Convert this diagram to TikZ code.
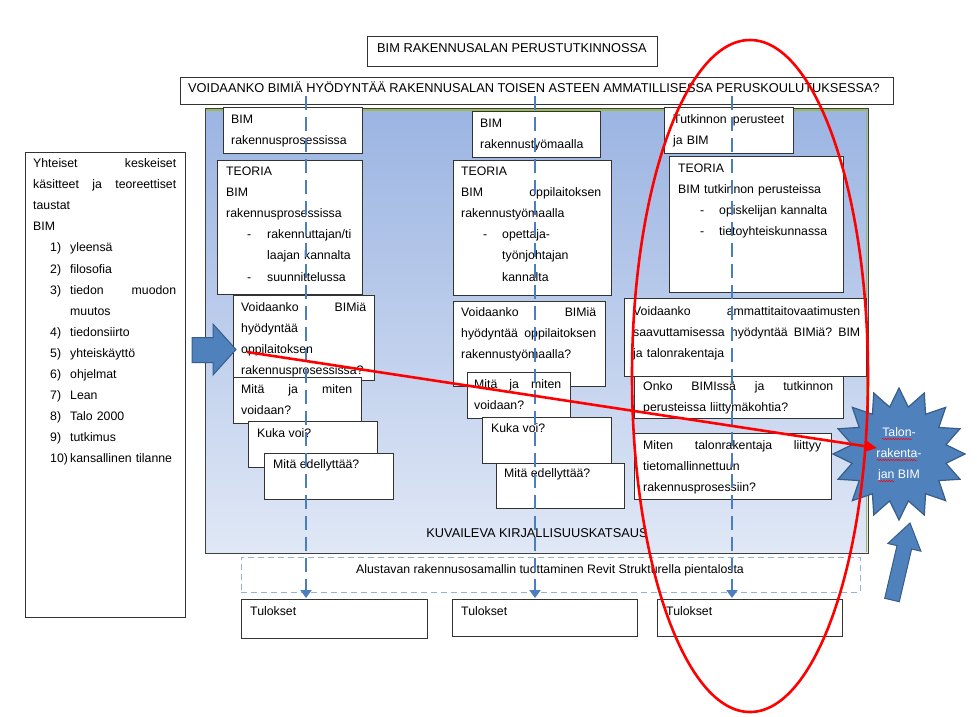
\documentclass[tikz,border=0pt]{standalone}
\usepackage{fontspec}
\setmainfont{Liberation Sans}
\usetikzlibrary{shapes.geometric,arrows.meta,decorations.pathmorphing,calc}
\definecolor{blueF}{RGB}{79,129,189}
\definecolor{blueD}{RGB}{56,93,138}
\definecolor{flowblue}{RGB}{74,126,193}
\definecolor{lightdash}{RGB}{149,179,215}
\definecolor{gradtop}{RGB}{155,180,226}
\definecolor{gradbot}{RGB}{224,232,246}
\definecolor{edgegreen}{RGB}{155,187,89}
\newcommand\fs{\fontsize{12.3}{21.1}\selectfont}
\newcommand\fscap{\fontsize{12.8}{21.1}\selectfont}
\newcommand\jline[1]{\makebox[\linewidth][s]{\spaceskip=0.28em plus 1fil\relax #1}}
\newcommand\jlinew[2]{\makebox[#1][s]{\spaceskip=0.28em plus 1fil\relax #2}}
\newcommand\numitem[2]{\hspace*{17pt}\makebox[20pt][l]{#1}#2}
\newcommand\dashitem[3]{\hspace*{#1}\makebox[#2][l]{-}#3}
\begin{document}
\begin{tikzpicture}[x=1pt,y=-1pt,
  box/.style={draw=black!80, line width=0.9pt, fill=white, anchor=north west, inner sep=0pt, outer sep=0pt},
  txt/.style={anchor=base west, inner sep=0pt, font=\fs, align=left},
  flow/.style={draw=flowblue, line width=2.5pt, dash pattern=on 14pt off 7pt, -{Triangle[length=8pt,width=11pt]}, shorten >=1pt},
  blockarrow/.style={fill=blueF, draw=blueD, line width=1pt},
  squiggle/.style={red, line width=0.5pt, decorate, decoration={snake, amplitude=0.7pt, segment length=2.6pt}}]
\useasboundingbox (0,0) rectangle (977,716);
\fill[white] (0,0) rectangle (977,716);

% background literature review area
\shade[top color=gradtop, bottom color=gradbot] (205,108) rectangle (868,553);
\draw[black!75, line width=1pt] (205,108) rectangle (868,553);
\draw[edgegreen, line width=1.4pt] (206,110) -- (866.5,110) -- (866.5,552);
\node[font=\fscap, anchor=base, inner sep=0pt] (kuv) at (537,537) {KUVAILEVA KIRJALLISUUSKATSAUS};

% header boxes
\node[box, minimum width=290pt, minimum height=30pt] (title) at (367,36) {};
\node[txt, font=\fscap] (titletxt) at (377,52.5) {BIM RAKENNUSALAN PERUSTUTKINNOSSA};
\node[box, minimum width=713pt, minimum height=27pt] (quest) at (180,77) {};
\node[txt, font=\fscap] (questtxt) at (188,92.5) {VOIDAANKO BIMIÄ HYÖDYNTÄÄ RAKENNUSALAN TOISEN ASTEEN AMMATILLISESSA PERUSKOULUTUKSESSA?};

% left box
\node[box, minimum width=160pt, minimum height=465pt] (left) at (25,152) {};
\node[txt, text width=143pt] (lefttxt) at (33,167.5) {\jline{Yhteiset keskeiset}\\
\jline{käsitteet ja teoreettiset}\\
taustat\\
BIM\\
\numitem{1)}{yleensä}\\
\numitem{2)}{filosofia}\\
\hspace*{17pt}\makebox[20pt][l]{3)}\jlinew{\dimexpr\linewidth-37pt\relax}{tiedon muodon}\\
\hspace*{37pt}muutos\\
\numitem{4)}{tiedonsiirto}\\
\numitem{5)}{yhteiskäyttö}\\
\numitem{6)}{ohjelmat}\\
\numitem{7)}{Lean}\\
\numitem{8)}{Talo 2000}\\
\numitem{9)}{tutkimus}\\
\numitem{10)}{kansallinen tilanne}};

% column 1
\node[box, minimum width=139pt, minimum height=46pt] (c1a) at (223,107) {};
\node[txt, text width=125pt] (c1atxt) at (231,123.5) {BIM\\rakennusprosessissa};
\node[box, minimum width=145pt, minimum height=134pt] (c1b) at (217,160) {};
\node[txt, text width=130pt] (c1btxt) at (226,175.5) {TEORIA\\BIM\\rakennusprosessissa\\
\dashitem{21pt}{20pt}{rakennuttajan/ti}\\
\hspace*{41pt}laajan kannalta\\
\dashitem{21pt}{20pt}{suunnittelussa}};
\node[box, minimum width=141pt, minimum height=85pt] (c1c) at (233,295) {};
\node[txt, text width=125pt] (c1ctxt) at (241,311.5) {\jline{Voidaanko BIMiä}\\hyödyntää\\oppilaitoksen\\rakennusprosessissa?};
\node[box, minimum width=128pt, minimum height=46pt] (c1d) at (233,377) {};
\node[txt, text width=111pt] (c1dtxt) at (241,393.5) {\jline{Mitä ja miten}\\voidaan?};
\node[box, minimum width=129pt, minimum height=46pt] (c1e) at (248,421) {};
\node[txt] (c1etxt) at (257,437.5) {Kuka voi?};
\node[box, minimum width=129pt, minimum height=46pt] (c1f) at (264,453) {};
\node[txt] (c1ftxt) at (273,468.5) {Mitä edellyttää?};

% column 2
\node[box, minimum width=128pt, minimum height=46pt] (c2a) at (472,111) {};
\node[txt, text width=112pt] (c2atxt) at (480,127.5) {BIM\\rakennustyömaalla};
\node[box, minimum width=158pt, minimum height=135pt] (c2b) at (453,160) {};
\node[txt, text width=140pt] (c2btxt) at (461,175.5) {TEORIA\\\jline{BIM oppilaitoksen}\\rakennustyömaalla\\
\dashitem{22pt}{19pt}{opettaja-}\\
\hspace*{41pt}työnjohtajan\\
\hspace*{41pt}kannalta};
\node[box, minimum width=152pt, minimum height=85pt] (c2c) at (453,301) {};
\node[txt, text width=135pt] (c2ctxt) at (461,316.5) {\jline{Voidaanko BIMiä}\\\jline{hyödyntää oppilaitoksen}\\rakennustyömaalla?};
\node[box, minimum width=103pt, minimum height=46pt] (c2d) at (467,372) {};
\node[txt, text width=87pt] (c2dtxt) at (474,388.5) {\jline{Mitä ja miten}\\voidaan?};
\node[box, minimum width=129pt, minimum height=46pt] (c2e) at (482,417) {};
\node[txt] (c2etxt) at (491,432.5) {Kuka voi?};
\node[box, minimum width=128pt, minimum height=45pt] (c2f) at (496,463) {};
\node[txt] (c2ftxt) at (504,477.5) {Mitä edellyttää?};

% column 3
\node[box, minimum width=129pt, minimum height=46pt] (c3a) at (664,107) {};
\node[txt, text width=111pt] (c3atxt) at (673,123.5) {\jline{Tutkinnon perusteet}\\ja BIM};
\node[box, minimum width=174pt, minimum height=136pt] (c3b) at (669,156) {};
\node[txt, text width=160pt] (c3btxt) at (678,172.5) {TEORIA\\BIM tutkinnon perusteissa\\
\dashitem{22pt}{19pt}{opiskelijan kannalta}\\
\dashitem{22pt}{19pt}{tietoyhteiskunnassa}};
\node[box, minimum width=242pt, minimum height=78pt] (c3c) at (624,298) {};
\node[txt, text width=227pt] (c3ctxt) at (633,315.5) {\jline{Voidaanko ammattitaitovaatimusten}\\\jline{saavuttamisessa hyödyntää BIMiä? BIM}\\ja talonrakentaja};
\node[box, minimum width=209pt, minimum height=42pt] (c3d) at (634,376) {};
\node[txt, text width=190pt] (c3dtxt) at (643,390.5) {\jline{Onko BIMIssä ja tutkinnon}\\perusteissa liittymäkohtia?};
\node[box, minimum width=197pt, minimum height=66pt] (c3e) at (634,433) {};
\node[txt, text width=178pt] (c3etxt) at (643,449.5) {\jline{Miten talonrakentaja liittyy}\\tietomallinnettuun\\rakennusprosessiin?};

% model production and results
\node[box, draw=lightdash, line width=1pt, dash pattern=on 6pt off 4pt, minimum width=619pt, minimum height=35pt] (alust) at (241,557) {};
\node[font=\fs, anchor=base, inner sep=0pt] (alusttxt) at (550,573.5) {Alustavan rakennusosamallin tuottaminen Revit Strukturella pientalosta};
\node[box, minimum width=186pt, minimum height=39pt] (res1) at (241,599) {};
\node[txt] (res1txt) at (250,615) {Tulokset};
\node[box, minimum width=185pt, minimum height=37pt] (res2) at (452,599) {};
\node[txt] (res2txt) at (461,615) {Tulokset};
\node[box, minimum width=185pt, minimum height=37pt] (res3) at (657,599) {};
\node[txt] (res3txt) at (666,615) {Tulokset};

% dashed flow lines
\coordinate (d1) at (306,96);
\coordinate (d2) at (535,96);
\coordinate (d3) at (732,96);
\draw[flow] (d1) -- (d1 |- res1.north);
\draw[flow] (d2) -- (d2 |- res2.north);
\draw[flow] (d3) -- (d3 |- res3.north);

% left block arrow
\draw[blockarrow] (192,337.5) -- (213,337.5) -- (213,324) -- (236,349.5) -- (213,375) -- (213,362.5) -- (192,362.5) -- cycle;

% star
\node[star, star points=16, star point ratio=1.38, minimum size=132pt, inner sep=0pt, fill=blueF, draw=blueD, line width=1.2pt] (star) at (899,454) {};
\node[font=\fs, text=white, align=center, inner sep=0pt] (startxt) at (899,454) {Talon-\\rakenta-\\jan BIM};
\draw[squiggle] (882,439) -- (912,439);
\draw[squiggle] (877,460) -- (917,460);
\draw[squiggle] (878,481) -- (894,481);

% bottom right block arrow
\draw[blockarrow] (899.3,601.7) -- (911.6,549.0) -- (920.9,551.2) -- (910,523) -- (887.8,543.5) -- (897.0,545.6) -- (884.7,598.3) -- cycle;

% red arrow and ellipse
\coordinate (rs) at (247,352);
\coordinate (re) at (877,448);
\draw[red, line width=2.6pt, -{Triangle[length=11pt,width=10pt]}] (rs) -- (re);
\draw[red, line width=2.6pt] (750,376) ellipse [x radius=118pt, y radius=336pt];
\end{tikzpicture}
\end{document}
